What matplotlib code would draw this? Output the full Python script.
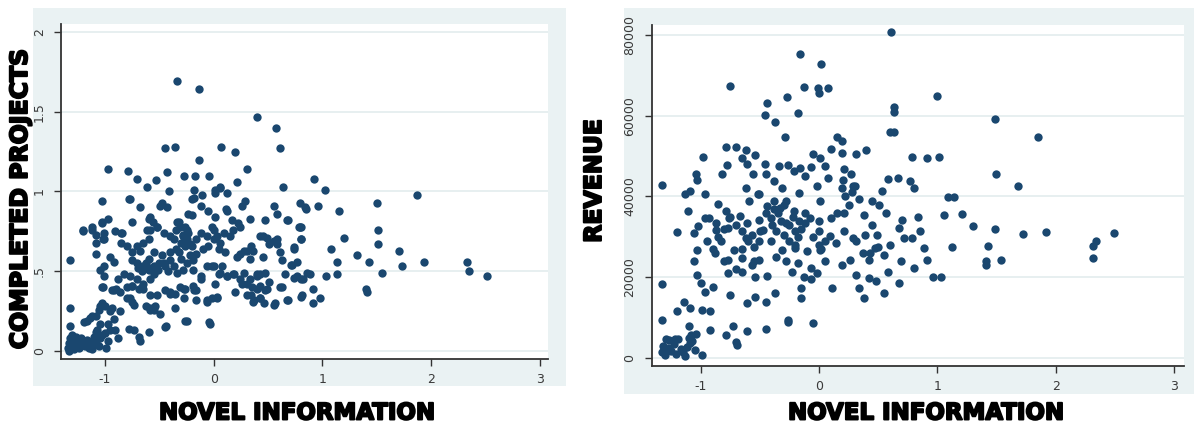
import matplotlib
matplotlib.use("Agg")
import matplotlib.pyplot as plt
import matplotlib.patheffects as pe

# ---------------- data ----------------
left_xticks = [-1, 0, 1, 2, 3]
left_yticks = [0, 0.5, 1, 1.5, 2]
left_yticklabels = ["0", ".5", "1", "1.5", "2"]
right_xticks = [-1, 0, 1, 2, 3]
right_yticks = [0, 20000, 40000, 60000, 80000]
right_yticklabels = ["0", "20000", "40000", "60000", "80000"]
x_label = "NOVEL INFORMATION"
left_ylabel = "COMPLETED PROJECTS"
right_ylabel = "REVENUE"

# novel information vs completed projects
left_points = [
    (-0.34,1.69),(-0.14,1.64),(0.40,1.47),(0.57,1.40),(-0.36,1.28),(-0.45,1.27),(0.07,1.28),(0.61,1.27),
    (0.20,1.25),(-0.14,1.20),(-0.97,1.14),(-0.79,1.13),(-0.27,1.10),(-0.17,1.10),(-0.04,1.10),(0.31,1.14),
    (-0.43,1.12),(-0.71,1.08),(-0.53,1.07),(-0.61,1.03),(0.21,1.06),(0.64,1.03),(0.92,1.08),(1.02,1.01),
    (1.87,0.98),(0.06,1.03),(0.01,1.01),(-0.18,1.01),(-0.41,1.00),(-0.11,0.98),(0.12,0.99),(-1.03,0.94),
    (-0.78,0.95),(-0.68,0.90),(-0.48,0.93),(-0.43,0.90),(-0.20,0.95),(-0.05,0.88),(0.29,0.94),(0.12,0.88),
    (0.55,0.91),(0.79,0.93),(0.85,0.89),(0.96,0.91),(1.15,0.88),(1.50,0.93),(-0.97,0.83),(-1.03,0.81),
    (-1.12,0.76),(-1.20,0.75),(-1.02,0.70),(-1.08,0.73),(-0.91,0.75),(-0.84,0.74),(-0.75,0.81),(-0.60,0.83),
    (-0.56,0.81),(-0.61,0.76),(-0.52,0.78),(-0.34,0.81),(-0.26,0.78),(-0.24,0.86),(0.01,0.84),(-0.02,0.78),
    (0.17,0.82),(0.24,0.78),(0.47,0.82),(0.68,0.82),(0.79,0.78),(0.80,0.70),(0.45,0.72),(0.58,0.70),
    (1.20,0.71),(1.51,0.76),(1.51,0.67),(1.08,0.64),(1.70,0.63),(1.32,0.60),(1.43,0.56),(1.13,0.56),
    (1.93,0.56),(2.33,0.56),(2.35,0.50),(2.51,0.47),(1.73,0.53),(1.55,0.49),(1.03,0.47),(1.13,0.48),
    (1.40,0.39),(1.41,0.37),(-1.32,0.57),(-1.32,0.27),(-1.32,0.16),(-0.99,0.02),(-0.88,0.08),(-0.68,0.06),
    (-0.44,0.16),(-0.25,0.19),(-0.04,0.18),(-1.02,0.40),(-0.92,0.38),(-1.05,0.28),(-0.94,0.27),(-0.86,0.25),
    (-1.08,0.22),(-1.19,0.18),(-1.14,0.21),(-1.07,0.13),(-1.03,0.10),(-0.97,0.17),(-0.91,0.13),(-0.78,0.14),
    (-0.73,0.13),(-0.69,0.09),(-0.60,0.12),(-0.54,0.28),(-0.59,0.26),(-0.73,0.29),(-0.80,0.33),(-0.75,0.41),
    (-0.65,0.39),(-0.59,0.35),(-0.45,0.38),(-0.52,0.35),(-0.36,0.27),(-0.40,0.36),(-0.27,0.39),(-0.18,0.38),
    (-0.16,0.32),(-0.27,0.33),(-0.06,0.31),(0.03,0.33),(0.01,0.42),(0.05,0.48),(-0.02,0.53),(0.08,0.53),
    (0.12,0.47),(0.20,0.37),(0.26,0.42),(0.31,0.35),(0.36,0.31),(0.43,0.33),(0.47,0.38),(0.51,0.43),
    (0.56,0.30),(0.63,0.40),(0.68,0.32),(0.81,0.35),(0.91,0.30),(0.98,0.33),(0.91,0.39),(0.82,0.45),
    (0.89,0.48),(0.77,0.47),(0.66,0.48),(0.72,0.54),(0.74,0.64),(0.63,0.57),(0.51,0.67),(0.33,0.58),
    (0.28,0.63),(0.36,0.63),(0.21,0.59),(0.45,0.59),(0.47,0.49),(0.40,0.47),(0.33,0.45),(0.28,0.49),
    (0.19,0.48),
    (-1.34,0.02),(-1.33,0.05),(-1.32,0.08),(-1.31,0.03),(-1.30,0.06),(-1.29,0.01),(-1.28,0.04),(-1.27,0.07),
    (-1.26,0.03),(-1.25,0.06),(-1.24,0.02),(-1.23,0.05),(-1.22,0.08),(-1.21,0.04),(-1.20,0.06),(-1.18,0.03),
    (-1.17,0.07),(-1.15,0.02),(-1.13,0.05),(-1.12,0.01),(-1.10,0.04),(-1.08,0.06),(-1.06,0.03),(-1.05,0.08),
    (-1.33,0.00),(-1.30,0.10),(-1.27,0.09),
    (-1.17,0.19),(-1.12,0.22),(-1.10,0.09),(-1.08,0.12),(-1.05,0.17),(-1.00,0.11),(-0.97,0.06),(-0.95,0.13),
    (-0.92,0.20),(-0.95,0.25),(-1.00,0.28),(-1.03,0.30),(-1.06,0.26),
    (-0.94,0.38),(-0.90,0.39),(-0.86,0.37),(-0.80,0.40),(-0.75,0.41),(-0.69,0.39),(-0.66,0.40),(-0.77,0.33),
    (-0.75,0.31),(-0.62,0.28),(-0.59,0.27),(-0.55,0.26),(-0.49,0.23),(-0.45,0.15),(-0.40,0.37),(-0.36,0.36),
    (-0.31,0.40),(-0.26,0.39),(-0.19,0.41),(-0.16,0.38),(-0.12,0.45),(-0.06,0.32),(-0.02,0.33),(0.03,0.34),
    (-0.26,0.19),(-0.03,0.17),(0.24,0.45),(0.31,0.42),(0.35,0.40),(0.40,0.39),(0.43,0.41),(0.49,0.39),
    (0.34,0.35),(0.37,0.32),(0.43,0.33),(0.46,0.30),(0.55,0.29),(0.67,0.32),(0.80,0.34),(0.61,0.40),
    (0.74,0.46),(0.80,0.45),(0.86,0.49),(0.71,0.54),(0.77,0.56),(0.43,0.48),(0.40,0.48),
    (-1.20,0.76),(-1.12,0.78),(-1.03,0.80),(-1.01,0.74),(-1.01,0.70),(-1.08,0.68),(-1.08,0.61),(-0.95,0.59),
    (-0.92,0.56),(-0.85,0.74),(-0.85,0.68),(-0.80,0.66),(-0.75,0.62),(-0.71,0.66),(-0.68,0.63),(-0.65,0.68),
    (-0.60,0.70),(-0.59,0.76),(-0.52,0.78),(-0.46,0.74),(-0.40,0.72),(-0.37,0.70),(-0.35,0.76),(-0.31,0.78),
    (-0.28,0.73),(-0.25,0.76),(-0.25,0.70),(-0.22,0.67),(-0.16,0.70),(-0.12,0.74),(-0.06,0.72),(0.00,0.76),
    (0.03,0.72),(0.06,0.68),(0.09,0.74),(0.15,0.72),(0.18,0.76),(0.24,0.61),(0.31,0.63),(0.34,0.66),
    (0.43,0.72),(0.49,0.71),(0.55,0.69),(0.58,0.67),(0.61,0.62),(0.74,0.65),(0.80,0.70),(0.80,0.78),
    (0.67,0.82),(-0.75,0.57),(-0.71,0.55),(-0.65,0.53),(-0.60,0.51),(-0.55,0.53),(-0.51,0.51),(-0.46,0.55),
    (-0.40,0.57),(-0.37,0.53),(-0.34,0.49),(-0.28,0.51),(-0.25,0.55),(-0.19,0.57),(-0.16,0.61),(-0.19,0.51),
    (-0.12,0.47),(-0.06,0.53),(0.00,0.53),(0.06,0.49),(0.12,0.47),(0.18,0.48),(-0.83,0.48),(-0.77,0.47),
    (-0.71,0.45),(-0.65,0.42),(-0.59,0.45),(-1.01,0.53),(-1.05,0.51),(-1.01,0.47),(-1.03,0.40),(-0.88,0.45),
    (-0.30,0.68),(-0.28,0.72),(-0.26,0.66),(-0.24,0.74),(-0.32,0.62),(-0.22,0.60),(-0.58,0.52),(-0.62,0.55),
    (-0.55,0.48),(-0.50,0.55),(-0.45,0.53),(-0.42,0.50),(-0.66,0.50),(-0.70,0.52),(-0.60,0.58),(-0.55,0.62),
    (-0.48,0.60),(-0.40,0.62),(-0.35,0.64),(-0.30,0.58),(-0.20,0.66),(-0.10,0.64),(-0.05,0.66),(0.00,0.70),
    (0.05,0.64),(0.10,0.62),
    (-0.77,0.95),(-0.59,0.84),(-0.49,0.91),(-0.32,0.81),(-0.20,0.85),(-0.12,0.91),(-0.18,0.96),(0.01,0.99),
    (0.06,1.02),(0.11,0.89),(0.22,0.80),(0.26,0.91),(0.33,0.83),(0.58,0.86),(0.84,0.90),(0.78,0.78),
]

# novel information vs revenue
right_points = [
    (0.61,80760),(-0.16,75360),(0.02,72710),(-0.75,67400),(-0.13,67060),(-0.01,66900),(0.08,66800),(0.00,65570),
    (1.00,64990),(-0.27,64570),(-0.44,63250),(-0.46,60180),(-0.18,60760),(0.63,62080),(0.63,60840),(-0.37,58520),
    (1.49,59100),(0.63,56030),(0.60,55860),(-0.29,54780),(0.15,54610),(0.19,53780),(1.85,54610),(-0.79,52290),
    (-0.70,52290),(-0.62,51460),(0.10,51710),(0.40,51460),(0.19,50880),(0.31,50460),(-0.98,49880),(-0.54,50300),
    (-0.05,50460),(0.01,49630),(0.79,49880),(0.91,49630),(1.01,49880),(-0.78,47810),(-0.65,49630),(-0.61,47970),
    (-0.46,47970),(-0.34,47560),(-0.26,47810),(-0.16,47140),(-0.07,47390),(0.05,47560),(0.21,46730),(1.50,45480),
    (-1.04,45480),(-0.82,45650),(-0.56,45480),(-0.45,45480),(-0.21,46310),(-0.12,45070),(0.08,44650),(0.27,45480),
    (0.58,44240),(0.67,44650),(0.77,43820),(0.80,42000),(1.68,42580),(-1.33,42750),(-1.03,43990),(-0.62,42170),
    (-0.38,43820),(-0.31,42170),(-0.02,42580),(0.19,42170),(0.29,42580),(0.53,41330),(-1.13,40500),(-1.09,41330),
    (-0.96,40670),(-0.52,40500),(-0.17,40920),(0.01,38840),(0.34,39260),(0.45,38840),(0.51,38010),(1.09,39840),
    (1.14,39840),(-1.11,36520),(-0.85,38180),(-0.79,36350),(-0.76,34690),(-0.67,35110),(-0.59,38840),(-0.51,40500),
    (-0.44,37600),(-0.38,38840),(-0.33,37180),(-0.28,38840),(-0.21,36350),(-0.12,35940),(-0.08,34690),(-0.96,34690),
    (-0.87,33450),(-0.61,33450),(-0.51,34280),(-0.41,34690),(-0.28,33450),(-0.17,33860),(0.00,33860),(0.10,34690),
    (0.21,35940),(0.38,35520),(0.57,35940),(0.70,34280),(0.84,34860),(1.06,35520),(1.21,35770),(-1.20,31210),
    (-1.06,30960),(-1.02,32620),(-0.93,34690),(-0.87,31790),(-0.77,32210),(-0.65,31370),(-0.57,30540),(-0.47,31790),
    (-0.36,31370),(-0.30,30540),(-0.20,31370),(0.00,31370),(0.09,30130),(0.21,31370),(0.29,29710),(0.39,30540),
    (0.49,30540),(0.68,32210),(0.72,29710),(0.79,29710),(0.85,31370),(1.30,32620),(1.49,32040),(1.72,30790),
    (1.92,31120),(2.49,30960),(2.34,28880),(2.32,27640),(2.32,24730),(1.43,27640),(1.12,27390),(0.89,27220),
    (0.60,28050),(0.47,27220),(0.37,25980),(0.31,28880),(0.14,28470),(0.01,26810),(-0.10,26390),(-0.20,27220),
    (-0.31,26810),(-0.41,28880),(-0.51,28880),(-0.62,29710),(-0.72,26810),(-0.83,28880),(-0.95,28880),(-1.03,26810),
    (-1.06,24070),(-0.88,25980),(-0.77,24320),(-0.65,24730),(-0.57,23070),(-0.51,24320),(-0.36,24900),(-0.28,23900),
    (-0.18,23490),(-0.07,22240),(0.05,23900),(0.19,23070),(0.26,24320),(0.42,24320),(0.55,25560),(0.69,23900),
    (0.80,22240),(0.91,24320),(1.41,23900),(1.41,23070),(1.54,24150),(-1.03,20580),(-1.00,18510),(-0.90,17680),
    (-0.96,16270),(-0.77,21000),(-0.65,21410),(-0.54,20170),(-0.44,20420),(-0.23,21410),(-0.13,20170),(-0.07,19590),
    (-0.02,21000),(0.31,20580),(0.42,19750),(0.58,21410),(0.96,20170),(1.03,20170),(-1.33,18260),(-0.75,15600),
    (-0.61,13530),(-0.54,15190),(-0.45,13780),(-0.37,16020),(-0.15,17260),(-0.15,14770),(0.11,17430),(0.34,17430),
    (0.38,14940),(0.48,19090),(0.55,16020),(0.68,18680),(-1.20,11620),(-1.14,13940),(-1.09,12280),(-0.99,11870),
    (-0.92,11700),(-1.10,7970),(-0.92,6890),(-0.73,7970),(-0.61,6640),(-0.45,7140),(-0.79,5640),(-0.70,3980),
    (-0.69,3150),(-0.26,9380),(-0.26,8800),(-0.05,8550),(-1.33,9380),
    (-1.33,1500),(-1.32,3000),(-1.30,800),(-1.28,2500),(-1.27,4500),(-1.25,1800),(-1.23,3500),(-1.21,1000),
    (-1.19,4600),(-1.17,2200),(-1.15,1400),(-1.13,500),(-1.12,2800),(-1.09,3600),(-1.07,4200),(-1.05,2100),
    (-1.22,4700),(-1.29,4700),(-0.99,800),(-1.10,4900),(-1.04,5900),(-1.08,5600),
    (-0.35,36000),(-0.32,34000),(-0.25,33000),(-0.22,35000),(-0.15,32000),(-0.18,30000),(-0.12,33500),(-0.25,29000),
    (-0.20,28000),(-0.40,33000),(-0.30,38000),(-0.38,37000),(-0.45,36000),(-0.50,31500),(-0.55,27500),(-0.60,29000),
    (-0.65,27000),(-0.70,33000),(-0.75,35000),(-0.80,32000),(-0.85,30000),(-0.90,27000),(-0.55,24000),(-0.70,22000),
    (-0.80,24000),(0.05,29000),(0.00,28000),(0.02,27000),(-0.05,30000),(0.25,38000),(0.28,41000),(0.30,42500),
    (0.22,40000),(0.20,44000),(0.15,36000),(0.45,33000),(0.50,27500),(0.43,26000),
]

# ---------------- style ----------------
BG = "#EAF2F3"
MARK = "#1A476F"
GRID = "#E3ECEE"
AXC = "#333333"
W, H = 1194, 429

fig = plt.figure(figsize=(W / 100, H / 100), dpi=100)
fig.patch.set_facecolor("white")


def px_rect(x0, y0, x1, y1):
    return [x0 / W, 1 - y1 / H, (x1 - x0) / W, (y1 - y0) / H]


def add_bg(x0, y0, x1, y1):
    bg = fig.add_axes(px_rect(x0, y0, x1, y1))
    bg.set_facecolor(BG)
    bg.set_xticks([])
    bg.set_yticks([])
    for s in bg.spines.values():
        s.set_visible(False)
    bg.set_zorder(0)
    return bg


def style_axes(ax, xticks, yticks, yticklabels, xlim, ylim):
    ax.set_zorder(2)
    ax.set_facecolor("white")
    ax.set_xlim(*xlim)
    ax.set_ylim(*ylim)
    for s in ("top", "right"):
        ax.spines[s].set_visible(False)
    for s in ("left", "bottom"):
        ax.spines[s].set_color(AXC)
        ax.spines[s].set_linewidth(1.3)
    ax.set_xticks(xticks)
    ax.set_xticklabels([str(t) for t in xticks])
    ax.set_yticks(yticks)
    ax.set_yticklabels(yticklabels, rotation=90, va="center")
    ax.tick_params(axis="both", length=5, width=1, color=AXC, labelcolor="#3a3a3a",
                   labelsize=9)
    ax.tick_params(axis="x", pad=5)
    ax.tick_params(axis="y", pad=6)
    for t in yticks:
        ax.axhline(t, color=GRID, linewidth=1.2, zorder=0)


# left panel
add_bg(33, 8, 566, 386)
ax1 = fig.add_axes(px_rect(61, 24, 548, 359))
style_axes(ax1, left_xticks, left_yticks, left_yticklabels, (-1.405, 3.075), (-0.05, 2.05))
lx, ly = zip(*left_points)
ax1.plot(lx, ly, linestyle="none", marker="o", markersize=6, color=MARK,
         markeredgewidth=0, zorder=3)

# right panel
add_bg(624, 8, 1194, 394)
ax2 = fig.add_axes(px_rect(651.5, 25, 1184, 366))
style_axes(ax2, right_xticks, right_yticks, right_yticklabels, (-1.416, 3.085), (-1980, 82470))
rx, ry = zip(*right_points)
ax2.plot(rx, ry, linestyle="none", marker="o", markersize=6, color=MARK,
         markeredgewidth=0, zorder=3)

heavy = [pe.withStroke(linewidth=1.4, foreground="black")]
lab_font = dict(family="DejaVu Sans", fontweight="bold", color="black", path_effects=heavy)
fig.text(297 / W, 1 - 413 / H, x_label, ha="center", va="center", fontsize=16.5, **lab_font)
fig.text(926 / W, 1 - 413 / H, x_label, ha="center", va="center", fontsize=16.5, **lab_font)
fig.text(20 / W, 1 - 199 / H, left_ylabel, ha="center", va="center", rotation=90,
         fontsize=17, **lab_font)
fig.text(594 / W, 1 - 181 / H, right_ylabel, ha="center", va="center", rotation=90,
         fontsize=17, **lab_font)

fig.savefig("out.png", dpi=100, facecolor="white")
